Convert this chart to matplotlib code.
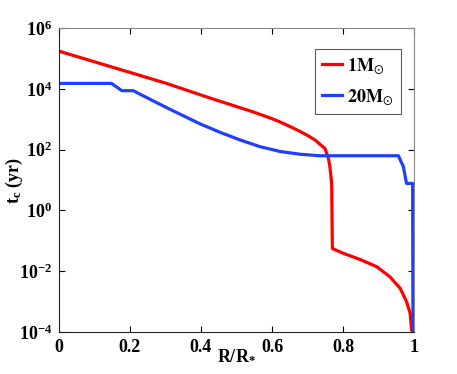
import numpy as np
import matplotlib
matplotlib.use("Agg")
import matplotlib.pyplot as plt
from matplotlib.font_manager import FontProperties

plt.rcParams['font.family'] = ['Liberation Serif', 'DejaVu Serif']
plt.rcParams['mathtext.fontset'] = 'custom'
plt.rcParams['mathtext.rm'] = 'Liberation Serif:bold'
plt.rcParams['mathtext.bf'] = 'Liberation Serif:bold'
plt.rcParams['mathtext.it'] = 'Liberation Serif:bold:italic'

# 1 M_sun star: (R/R*, log10 t_c)
r1 = [0.0, 0.1, 0.2, 0.3, 0.425, 0.51, 0.545, 0.576, 0.60, 0.623, 0.651, 0.679,
      0.698, 0.721, 0.735, 0.749, 0.759, 0.763, 0.768, 0.770, 0.801, 0.848,
      0.895, 0.932, 0.961, 0.979, 0.989, 0.993, 0.996]
lt1 = [5.24, 4.89, 4.54, 4.19, 3.70, 3.38, 3.25, 3.12, 3.02, 2.91, 2.76, 2.60,
       2.48, 2.32, 2.18, 2.04, 1.71, 1.44, 0.9, -1.25, -1.41, -1.61,
       -1.85, -2.18, -2.56, -3.00, -3.38, -3.93, -4.0]
# 20 M_sun star
r20 = [0.0, 0.148, 0.177, 0.209, 0.30, 0.397, 0.454, 0.51, 0.566, 0.623,
       0.679, 0.735, 0.956, 0.970, 0.977, 0.979, 0.996, 0.997]
lt20 = [4.18, 4.18, 3.94, 3.94, 3.40, 2.85, 2.57, 2.32, 2.10, 1.94,
        1.85, 1.80, 1.80, 1.44, 1.0, 0.89, 0.89, -4.0]

xticks = [0, 0.2, 0.4, 0.6, 0.8, 1]
xticklabels = ['0', '0.2', '0.4', '0.6', '0.8', '1']
yticks = [1e-4, 1e-2, 1e0, 1e2, 1e4, 1e6]

fig = plt.figure(figsize=(4.57, 3.74), dpi=100)
ax = fig.add_axes([0.129, 0.112, 0.777, 0.813])

ax.plot(r1, 10 ** np.array(lt1), color='#ff0000', lw=2.3, label=r'$\mathbf{1M}_{\odot}$')
ax.plot(r20, 10 ** np.array(lt20), color='#1f3fff', lw=2.3, label=r'$\mathbf{20M}_{\odot}$')

ax.set_yscale('log')
ax.set_xlim(0, 1)
ax.set_ylim(1e-4, 1e6)
ax.set_xticks(xticks)
ax.set_xticklabels(xticklabels, fontweight='bold', fontsize=13)
ax.set_yticks(yticks)
ax.set_yticklabels([r'$\mathbf{10^{%d}}$' % int(np.log10(v)) for v in yticks], fontsize=13)
ax.minorticks_off()
ax.tick_params(direction='in', top=True, right=True, length=4, width=0.8, pad=5)
for s in ['top', 'right']:
    ax.spines[s].set_color('#888888')
for s in ['left', 'bottom']:
    ax.spines[s].set_color('#222222')

ax.set_xlabel(r'$\mathbf{R/R_{*}}$', fontsize=13)
ax.xaxis.set_label_coords(0.5, -0.048)
ax.set_ylabel(r'$\mathbf{t_{c}\ (yr)}$', fontsize=13)
ax.yaxis.set_label_coords(-0.095, 0.5)

legprop = FontProperties(size=13, math_fontfamily='stix')
leg = ax.legend(loc='upper right', bbox_to_anchor=(0.963, 0.932), prop=legprop,
                frameon=True, fancybox=False, handlelength=1.1, borderpad=0.4,
                labelspacing=0.6, handletextpad=0.3, borderaxespad=0)
leg.get_frame().set_edgecolor('#333333')
leg.get_frame().set_linewidth(0.8)

fig.savefig('out.png', dpi=100)
